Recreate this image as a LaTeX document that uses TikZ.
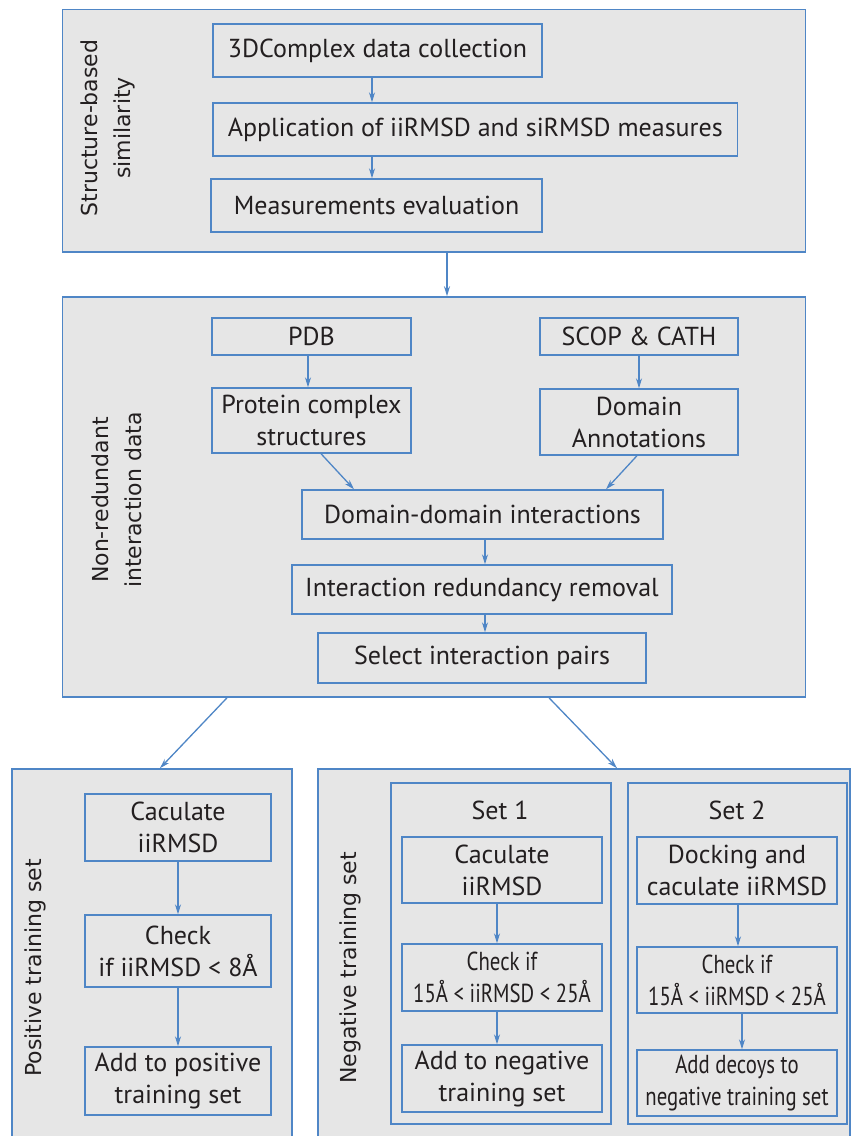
\documentclass[tikz,border=0pt]{standalone}
\usepackage{fontspec}
\setmainfont{PT Sans}
\newfontfamily\sidefont{DejaVu Sans}
\usetikzlibrary{arrows.meta,positioning}
\definecolor{Edge}{HTML}{4F86C6}
\definecolor{Panel}{HTML}{E6E6E6}
\definecolor{Ink}{HTML}{231F20}
\newcommand{\narrowtext}[1]{\scalebox{0.8}[1]{#1}}

\begin{document}
\begin{tikzpicture}[x=1pt,y=-1pt,
  panel/.style={draw=Edge,fill=Panel,line width=1.6pt,inner sep=0pt},
  box/.style={draw=Edge,line width=1.4pt,align=center,inner sep=1pt,text=Ink,
    font=\fontsize{26}{32}\selectfont},
  side/.style={rotate=90,align=center,text=Ink,font=\sidefont\fontsize{22}{33}\selectfont},
  arr/.style={Edge,line width=1.3pt,-{Stealth[length=10pt,width=6pt]}}]
  \useasboundingbox (0,0) rectangle (852,1136);
  \fill[white] (0,0) rectangle (852,1136);

  % structure-based similarity
  \node[panel,minimum width=743pt,minimum height=242.5pt] (sim) at (434,130.75) {};
  \node[side] (simlab) at (108,128) {Structure-based\\similarity};
  \node[box,minimum width=329pt,minimum height=53pt] (dc) at (377.5,50.5) {3DComplex data collection};
  \node[box,minimum width=524.5pt,minimum height=53pt] (app) at (475.25,129.5) {Application of iiRMSD and siRMSD measures};
  \node[box,minimum width=331pt,minimum height=53pt] (meas) at (376.5,205.5) {Measurements evaluation};
  \draw[arr] ([xshift=-5.5pt]dc.south) -- ([xshift=-5.5pt]dc.south |- app.north);
  \draw[arr] ([xshift=-4.5pt]meas.north |- app.south) -- ([xshift=-4.5pt]meas.north);

  % non-redundant interaction data
  \node[panel,minimum width=743pt,minimum height=400pt] (nrd) at (434,497) {};
  \draw[arr] ([xshift=13pt]sim.south) -- ([xshift=13pt]nrd.north);
  \node[side] (nrdlab) at (117,500) {Non-redundant\\interaction data};
  \node[box,minimum width=199pt,minimum height=37pt] (pdb) at (311.5,336.5) {PDB};
  \node[box,minimum width=198pt,minimum height=37pt] (scop) at (639,336.5) {SCOP \& CATH};
  \node[box,minimum width=199pt,minimum height=65pt] (pcs) at (311.5,420.5) {Protein complex\\structures};
  \node[box,minimum width=198pt,minimum height=66pt] (dom) at (639,422) {Domain\\Annotations};
  \node[box,minimum width=361pt,minimum height=49pt] (ddi) at (482.5,514.5) {Domain-domain interactions};
  \node[box,minimum width=380pt,minimum height=49pt] (irr) at (482,589.5) {Interaction redundancy removal};
  \node[box,minimum width=328pt,minimum height=50pt] (sip) at (482,658) {Select interaction pairs};
  \draw[arr] ([xshift=-3.5pt]pdb.south) -- ([xshift=-3.5pt]pdb.south |- pcs.north);
  \draw[arr] (scop) -- (dom);
  \draw[arr] ([xshift=9.5pt]pcs.south) -- ([xshift=-128.5pt]ddi.north);
  \draw[arr] ([xshift=-2pt]dom.south) -- ([xshift=123.5pt]ddi.north);
  \draw[arr] ([xshift=2.5pt]ddi.south) -- ([xshift=2.5pt]ddi.south |- irr.north);
  \draw[arr] ([xshift=3pt]irr.south) -- ([xshift=3pt]irr.south |- sip.north);

  % positive training set
  \node[panel,minimum width=280pt,minimum height=391pt] (pos) at (152,964.5) {};
  \node[side] (poslab) at (35,968) {Positive training set};
  \node[box,minimum width=186pt,minimum height=67pt] (pc) at (178,827.5) {Caculate\\iiRMSD};
  \node[box,minimum width=186pt,minimum height=72pt] (pk) at (178,951) {Check\\if iiRMSD < 8Å};
  \node[box,minimum width=186pt,minimum height=68pt] (pa) at (178,1081) {Add to positive\\training set};
  \draw[arr] (pc) -- (pk);
  \draw[arr] (pk) -- (pa);

  % negative training set
  \node[panel,minimum width=532pt,minimum height=391pt] (neg) at (584,964.5) {};
  \node[side] (neglab) at (350,968) {Negative training set};
  \draw[arr] ([xshift=-207pt]nrd.south) -- ([xshift=8pt]pos.north);
  \draw[arr] ([xshift=115pt]nrd.south) -- ([xshift=33pt]neg.north);
  \node[panel,minimum width=220pt,minimum height=341pt] (setone) at (501,953.5) {};
  \node[panel,minimum width=219pt,minimum height=341pt] (settwo) at (737.5,953.5) {};
  \node[text=Ink,font=\fontsize{26}{32}\selectfont] (setonelab) at (500,810) {Set 1};
  \node[text=Ink,font=\fontsize{26}{32}\selectfont] (settwolab) at (737,810) {Set 2};
  \node[box,minimum width=200pt,minimum height=66pt] (na) at (502,870) {Caculate\\iiRMSD};
  \node[box,minimum width=200pt,minimum height=67pt] (nb) at (502,977.5) {\narrowtext{Check if}\\\narrowtext{15Å < iiRMSD < 25Å}};
  \node[box,minimum width=200pt,minimum height=67pt] (nc) at (502,1078.5) {Add to negative\\training set};
  \node[box,minimum width=200pt,minimum height=67pt] (ma) at (737,870.5) {Docking and\\caculate iiRMSD};
  \node[box,minimum width=200pt,minimum height=66pt] (mb) at (737,980) {\narrowtext{Check if}\\\narrowtext{15Å < iiRMSD < 25Å}};
  \node[box,minimum width=200pt,minimum height=66pt] (mc) at (737,1083) {\narrowtext{Add decoys to}\\\narrowtext{negative training set}};
  \draw[arr] ([xshift=-5pt]na.south) -- ([xshift=-5pt]nb.north);
  \draw[arr] ([xshift=-5pt]nb.south) -- ([xshift=-5pt]nc.north);
  \draw[arr] ([xshift=1pt]ma.south) -- ([xshift=1pt]mb.north);
  \draw[arr] ([xshift=5pt]mb.south) -- ([xshift=5pt]mc.north);
\end{tikzpicture}
\end{document}
